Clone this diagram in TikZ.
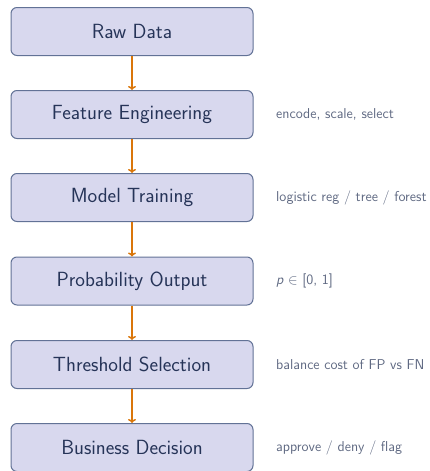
\documentclass[tikz,border=0pt]{standalone}
\usetikzlibrary{arrows.meta}
\definecolor{boxfill}{RGB}{216,216,238}
\definecolor{boxdraw}{RGB}{98,114,150}
\definecolor{boxtext}{RGB}{38,52,88}
\definecolor{arrowc}{RGB}{218,118,10}
\definecolor{notec}{RGB}{95,105,130}
\begin{document}
\begin{tikzpicture}[x=1pt,y=-1pt,
  stagebox/.style={draw=boxdraw, fill=boxfill, line width=1pt, rounded corners=6pt,
    minimum width=242pt, minimum height=48pt, inner sep=0pt,
    text=boxtext, font=\sffamily\fontsize{20.5}{24}\selectfont},
  note/.style={anchor=west, inner sep=0pt, text=notec, font=\sffamily\fontsize{14.3}{16}\selectfont},
  flow/.style={draw=arrowc, line width=1.5pt, -{To[length=4pt,width=8pt]}}]
\useasboundingbox (0,0) rectangle (430,471);
\node[stagebox] (s1) at (132,31.5) {Raw Data};
\node[stagebox] (s2) at (132,114.5) {Feature Engineering};
\node[stagebox] (s3) at (132,197.5) {Model Training};
\node[stagebox] (s4) at (132,281) {Probability Output};
\node[stagebox] (s5) at (132,364.5) {Threshold Selection};
\node[stagebox] (s6) at (132,447.5) {Business Decision};
\node[note] (n2) at (276,114.5) {encode, scale, select};
\node[note] (n3) at (276,197.5) {logistic reg / tree / forest};
\node[note] (n4) at (276,281) {{\slshape p} $\in$ [0, 1]};
\node[note] (n5) at (276,364.5) {balance cost of FP vs FN};
\node[note] (n6) at (276,447.5) {approve / deny / flag};
\draw[flow] (s1) -- (s2);
\draw[flow] (s2) -- (s3);
\draw[flow] (s3) -- (s4);
\draw[flow] (s4) -- (s5);
\draw[flow] (s5) -- (s6);
\end{tikzpicture}
\end{document}
